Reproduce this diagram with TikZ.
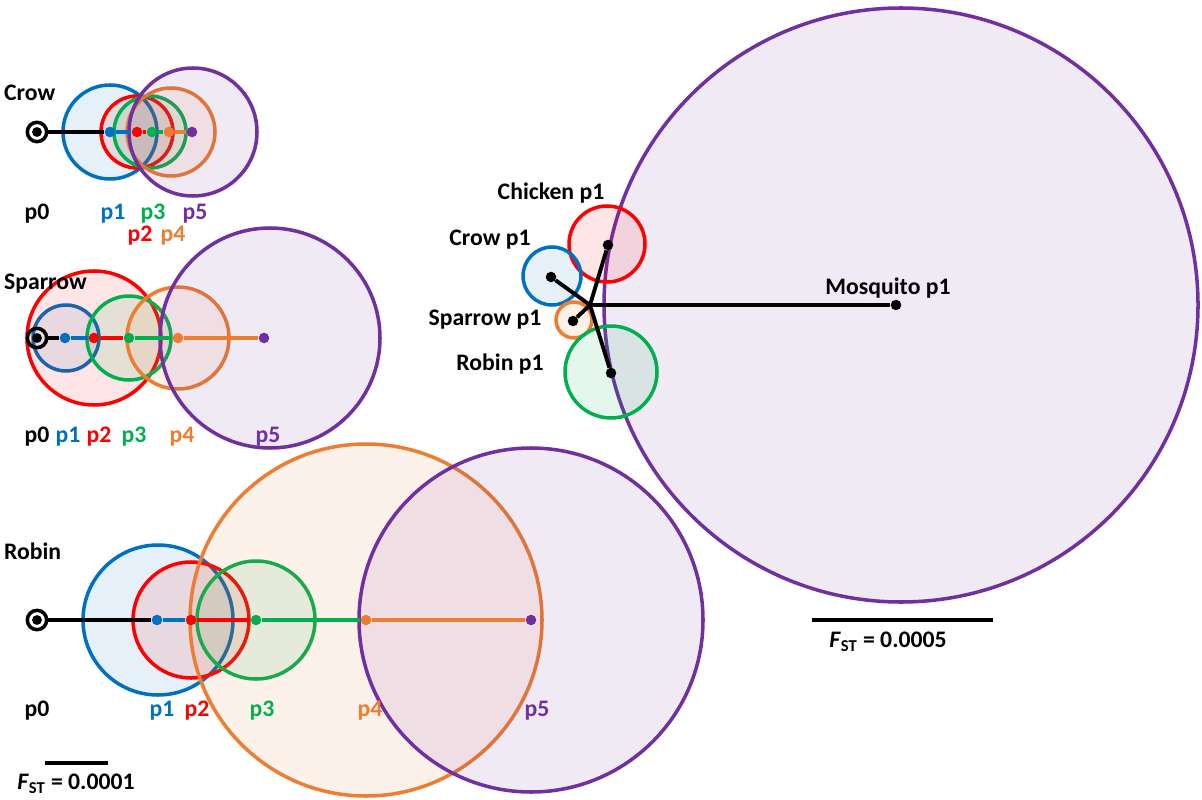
\documentclass[tikz,border=0pt]{standalone}
\usepackage{fontspec}
\setmainfont{Carlito}
\definecolor{cblue}{RGB}{0,112,192}
\definecolor{cred}{RGB}{255,0,0}
\definecolor{cgreen}{RGB}{0,176,80}
\definecolor{corange}{RGB}{237,125,49}
\definecolor{cpurple}{RGB}{112,48,160}
\newcommand{\fst}{\textit{F}\textsubscript{ST}}
\tikzset{
  ring/.style={draw=#1, line width=2pt, fill=#1, fill opacity=0.1},
  dot/.style={circle, fill=#1, inner sep=0pt, minimum size=6pt},
  link/.style={draw=#1, line width=2.2pt},
  lab/.style={font=\bfseries\fontsize{13.5}{14}\selectfont, text=#1, inner sep=1pt},
  origin/.style={circle, draw, line width=2pt, inner sep=0pt, minimum size=11pt,
    path picture={\fill (path picture bounding box.center) circle (2.8pt);}}
}
\begin{document}
\begin{tikzpicture}[x=0.02cm, y=-0.02cm]
\useasboundingbox (0,0) rectangle (1202,800);

% Crow
	\foreach \x/\r/\c in {110/47/cblue, 137/36/cred, 150/36/cgreen, 171/44/corange, 193/64/cpurple}
		\path[ring=\c] (\x,132) circle (\r*0.02cm);
	\node[origin] (c0) at (37,132) {};
	\foreach \n/\x/\c in {1/110/cblue, 2/137/cred, 3/152/cgreen, 4/169/corange, 5/192/cpurple}
		\node[dot=\c] (c\n) at (\x,132) {};
	\draw[link=black] (c0) -- (c1);
	\draw[link=cblue] (c1) -- (c2);
	\draw[link=cred] (c2) -- (c3);
	\draw[link=cgreen] (c3) -- (c4);
	\draw[link=corange] (c4) -- (c5);
	\node[lab=black, anchor=west] (crow) at (2,93) {Crow};
	\node[lab=black] at (37,214) {p0};
	\node[lab=cblue] at (113,214) {p1};
	\node[lab=cred] at (140,236) {p2};
	\node[lab=cgreen] at (153,214) {p3};
	\node[lab=corange] at (173,236) {p4};
	\node[lab=cpurple] at (195,214) {p5};

% Sparrow
	\foreach \x/\r/\c in {66/33/cblue, 94/67/cred, 129/42/cgreen, 178/51/corange, 270/110/cpurple}
		\path[ring=\c] (\x,338) circle (\r*0.02cm);
	\node[origin] (s0) at (37,338) {};
	\foreach \n/\x/\c in {1/65/cblue, 2/94/cred, 3/129/cgreen, 4/178/corange, 5/264/cpurple}
		\node[dot=\c] (s\n) at (\x,338) {};
	\draw[link=black] (s0) -- (s1);
	\draw[link=cblue] (s1) -- (s2);
	\draw[link=cred] (s2) -- (s3);
	\draw[link=cgreen] (s3) -- (s4);
	\draw[link=corange] (s4) -- (s5);
	\node[lab=black, anchor=west] (sparrow) at (2,284) {Sparrow};
	\node[lab=black] at (37,437) {p0};
	\node[lab=cblue] at (68,437) {p1};
	\node[lab=cred] at (99,437) {p2};
	\node[lab=cgreen] at (134,437) {p3};
	\node[lab=corange] at (182,437) {p4};
	\node[lab=cpurple] at (268,437) {p5};

% Robin
	\foreach \x/\r/\c in {158/75/cblue, 191/58/cred, 256/59/cgreen, 366/176/corange, 531/172/cpurple}
		\path[ring=\c] (\x,620) circle (\r*0.02cm);
	\node[origin] (r0) at (37,620) {};
	\foreach \n/\x/\c in {1/157/cblue, 2/191/cred, 3/256/cgreen, 4/366/corange, 5/531/cpurple}
		\node[dot=\c] (r\n) at (\x,620) {};
	\draw[link=black] (r0) -- (r1);
	\draw[link=cblue] (r1) -- (r2);
	\draw[link=cred] (r2) -- (r3);
	\draw[link=cgreen] (r3) -- (r4);
	\draw[link=corange] (r4) -- (r5);
	\node[lab=black, anchor=west] (robin) at (2,551) {Robin};
	\node[lab=black] at (37,711) {p0};
	\node[lab=cblue] at (162,711) {p1};
	\node[lab=cred] at (197,711) {p2};
	\node[lab=cgreen] at (262,711) {p3};
	\node[lab=corange] at (370,711) {p4};
	\node[lab=cpurple] at (537,711) {p5};

% Escala
	\coordinate (b1) at (45,763);
	\coordinate (b2) at (108,763);
	\draw[link=black] (b1) -- (b2);
	\node[lab=black] at (76,784) {\fst{} = 0.0001};

% Mosquito
	\path[ring=cpurple] (901,305) circle (297*0.02cm);
	\foreach \x/\y/\r/\c in {607/244/38/cred, 552/276/29/cblue, 574/320/18/corange, 611/372/46/cgreen}
		\path[ring=\c] (\x,\y) circle (\r*0.02cm);
	\coordinate (hub) at (590,305);
	\node[dot=black] (mosq) at (896,305) {};
	\node[dot=black] (chick) at (608,245) {};
	\node[dot=black] (crowp) at (551,277) {};
	\node[dot=black] (sparp) at (573,321) {};
	\node[dot=black] (robp) at (611,373) {};
	\foreach \t in {mosq, chick, crowp, sparp, robp}
		\draw[link=black] (hub) -- (\t);
	\node[lab=black] at (888,288) {Mosquito p1};
	\node[lab=black] at (551,193) {Chicken p1};
	\node[lab=black] at (490,240) {Crow p1};
	\node[lab=black] at (485,320) {Sparrow p1};
	\node[lab=black] at (500,364) {Robin p1};
	\coordinate (m1) at (812,620);
	\coordinate (m2) at (993,620);
	\draw[link=black] (m1) -- (m2);
	\node[lab=black] at (888,642) {\fst{} = 0.0005};
\end{tikzpicture}
\end{document}
